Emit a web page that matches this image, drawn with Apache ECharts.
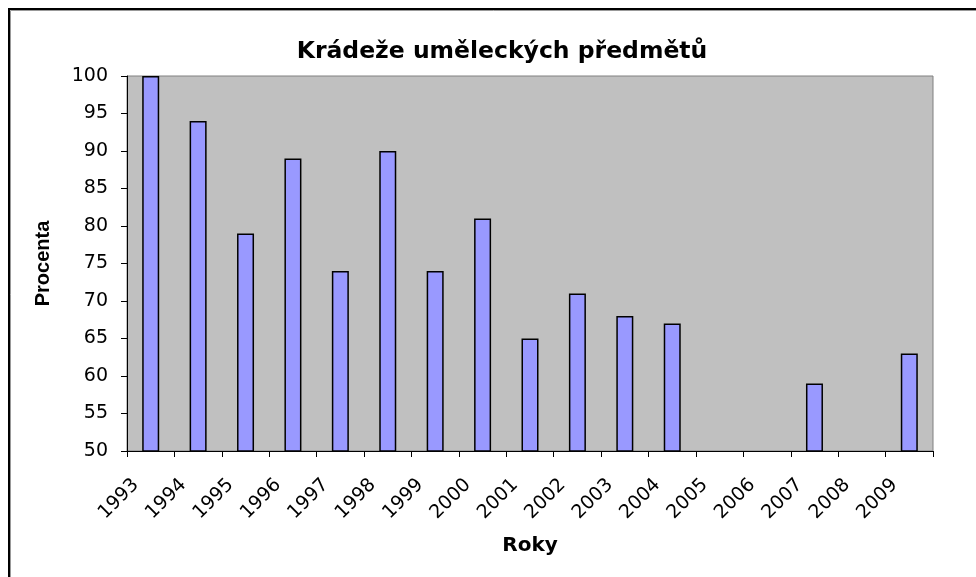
<!DOCTYPE html>
<html>
<head>
<meta charset="utf-8">
<script src="https://cdn.jsdelivr.net/npm/echarts@6/dist/echarts.min.js"></script>
<style>html,body{margin:0;padding:0;background:#fff}#c{width:976px;height:577px}</style>
</head>
<body>
<div id="c"></div>
<script>
const years = ['1993','1994','1995','1996','1997','1998','1999','2000','2001','2002','2003','2004','2005','2006','2007','2008','2009'];
const procenta = [100, 94, 79, 89, 74, 90, 74, 81, 65, 71, 68, 67, null, null, 59, null, 63];
const titleText = 'Krádeže uměleckých předmětů';
const yName = 'Procenta';
const xName = 'Roky';

const chart = echarts.init(document.getElementById('c'), null, {renderer: 'canvas'});
chart.setOption({
  animation: false,
  backgroundColor: '#ffffff',
  title: {
    text: titleText,
    left: 497,
    textAlign: 'center',
    top: 35,
    textStyle: {fontFamily: 'DejaVu Sans', fontWeight: 'bold', fontSize: 23.5, color: '#000'}
  },
  graphic: [
    {type: 'rect', shape: {x: 9, y: 9, width: 2000, height: 2000}, style: {fill: 'none', stroke: '#000', lineWidth: 2}, silent: true},
    {type: 'rect', shape: {x: 10.5, y: 10.5, width: 2000, height: 2000}, style: {fill: 'none', stroke: '#999', lineWidth: 1}, silent: true}
  ],
  grid: {
    left: 127, right: 43, top: 76, bottom: 126,
    show: true, backgroundColor: '#c0c0c0', borderColor: '#808080', borderWidth: 1
  },
  xAxis: {
    type: 'category',
    data: years,
    boundaryGap: true,
    name: xName,
    nameLocation: 'middle',
    nameGap: 85,
    nameTextStyle: {fontFamily: 'DejaVu Sans', fontWeight: 'bold', fontSize: 20, color: '#000'},
    axisLine: {lineStyle: {color: '#000', width: 1}},
    axisTick: {show: true, interval: 0, length: 6, lineStyle: {color: '#000'}},
    axisLabel: {interval: 0, rotate: 45, margin: 16, padding: [0, 21, 0, 0], fontFamily: 'DejaVu Sans', fontSize: 19, color: '#000'},
    splitLine: {show: false}
  },
  yAxis: {
    type: 'value',
    min: 50, max: 100, interval: 5,
    name: yName,
    nameLocation: 'middle',
    nameRotate: 90,
    nameGap: 74,
    nameTextStyle: {fontFamily: 'Liberation Sans', fontWeight: 'bold', fontSize: 20, color: '#000'},
    axisLine: {show: true, lineStyle: {color: '#000', width: 1}},
    axisTick: {show: true, length: 6, lineStyle: {color: '#000'}},
    axisLabel: {margin: 19, fontFamily: 'DejaVu Sans', fontSize: 19, color: '#000'},
    splitLine: {show: false}
  },
  series: [{
    type: 'bar',
    data: procenta,
    barWidth: 17,
    itemStyle: {color: '#9999ff', borderColor: '#000', borderWidth: 1.5}
  }]
});
</script>
</body>
</html>
